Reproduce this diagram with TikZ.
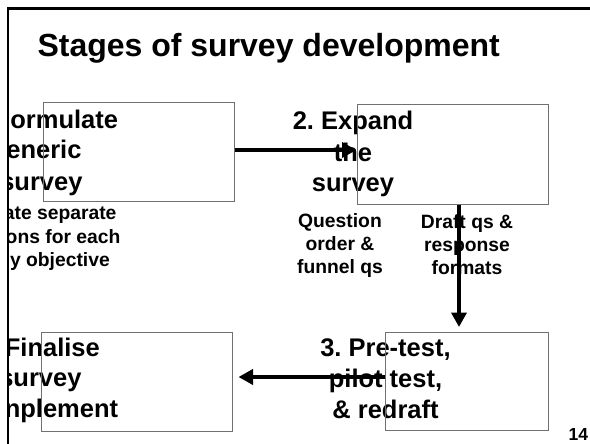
\documentclass[tikz,border=0pt]{standalone}
\usepackage{fontspec}
\setmainfont{Liberation Sans}
\usetikzlibrary{arrows.meta}
\definecolor{boxgray}{HTML}{707070}
\frenchspacing
\begin{document}
\begin{tikzpicture}[x=1pt,y=-1pt,
  stagetxt/.style={font=\fontsize{25.5}{31}\selectfont\bfseries, inner sep=0pt},
  subtxt/.style={font=\fontsize{19.3}{23.5}\selectfont\bfseries, inner sep=0pt},
  titletxt/.style={font=\fontsize{32}{38}\selectfont\bfseries, inner sep=0pt},
  pagetxt/.style={font=\fontsize{17.5}{21}\selectfont\bfseries, inner sep=0pt},
  stagebox/.style={draw=boxgray, line width=1pt, inner sep=0pt},
  arr/.style={line width=4.3pt, -{Triangle[length=14.5pt,width=15pt]}},
  frameline/.style={line width=2.6pt, line join=miter}]
\useasboundingbox (0,0) rectangle (590,444);

% title and page number
\node[titletxt, anchor=base] (title) at (268.7,56.7) {Stages of survey development};
\node[pagetxt, anchor=base east] (pg) at (588.3,440.7) {14};

% left texts (clipped by the frame line)
\begin{scope}
\clip (9.4,0) rectangle (590,444);
\node[stagetxt, anchor=base east] (t1a) at (118.3,128.3) {ormulate};
\node[stagetxt, anchor=base east] (t1b) at (81.7,158.8) {eneric};
\node[stagetxt, anchor=base east] (t1c) at (82.7,190) {survey};
\node[subtxt, anchor=base east] (s1a) at (116.7,219) {ate separate};
\node[subtxt, anchor=base east] (s1b) at (120.7,243) {ons for each};
\node[subtxt, anchor=base east] (s1c) at (110,266.5) {y objective};
\node[stagetxt, anchor=base east] (t4a) at (100,356.7) {Finalise};
\node[stagetxt, anchor=base east] (t4b) at (81.7,386.7) {survey};
\node[stagetxt, anchor=base east] (t4c) at (118.3,417.3) {nplement};
\end{scope}

% stage 2 texts
\node[stagetxt, anchor=base] (t2a) at (353,130) {2. Expand};
\node[stagetxt, anchor=base] (t2b) at (353,161) {the};
\node[stagetxt, anchor=base] (t2c) at (353,192) {survey};
\node[subtxt, anchor=base] (s2a) at (340,227) {Question};
\node[subtxt, anchor=base] (s2b) at (340,250.5) {order \&};
\node[subtxt, anchor=base] (s2c) at (340,273) {funnel qs};
\node[subtxt, anchor=base] (s3a) at (467,228) {Draft qs \&};
\node[subtxt, anchor=base] (s3b) at (467,251.5) {response};
\node[subtxt, anchor=base] (s3c) at (467,274) {formats};

% stage 3 texts
\node[stagetxt, anchor=base] (t3a) at (385.5,356.7) {3. Pre-test,};
\node[stagetxt, anchor=base] (t3b) at (385.5,387.3) {pilot test,};
\node[stagetxt, anchor=base] (t3c) at (385.5,418) {\& redraft};

% boxes
\node[stagebox, minimum width=191pt, minimum height=98pt] (b1) at (138.5,152) {};
\node[stagebox, minimum width=191pt, minimum height=99pt] (b2) at (452.5,154.5) {};
\node[stagebox, minimum width=163pt, minimum height=98pt] (b3) at (466.5,381) {};
\node[stagebox, minimum width=191pt, minimum height=99pt] (b4) at (136.5,381.5) {};

% arrows
\coordinate (a1) at (0,150);
\coordinate (a2) at (459,0);
\coordinate (a3) at (0,377);
\draw[arr] (b1.east |- a1) -- (b2.west |- a1);
\draw[arr] (b2.south -| a2) -- ([yshift=4.5pt]b3.north -| a2);
\draw[arr] (b3.west |- a3) -- ([xshift=6pt]b4.east |- a3);

% frame
\coordinate (fl) at (8,444);
\coordinate (fc) at (8,8.6);
\coordinate (fr) at (590,8.6);
\draw[frameline] (fl) -- (fc) -- (fr);
\end{tikzpicture}
\end{document}
